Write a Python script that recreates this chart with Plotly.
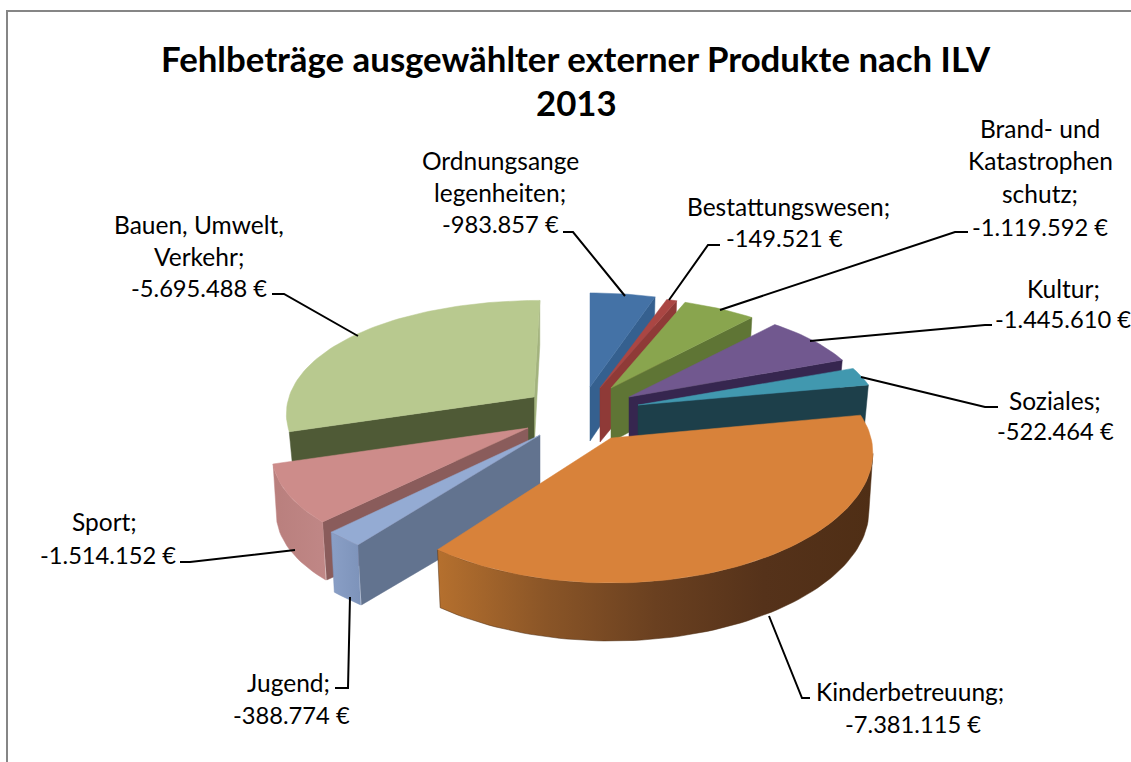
import math
import plotly.graph_objects as go

# ---- data ----
categories = ["Ordnungsangelegenheiten", "Bestattungswesen", "Brand- und Katastrophenschutz",
              "Kultur", "Soziales", "Kinderbetreuung", "Jugend", "Sport", "Bauen, Umwelt, Verkehr"]
values = [-983857, -149521, -1119592, -1445610, -522464, -7381115, -388774, -1514152, -5695488]
label_lines = [["Ordnungsange", "legenheiten;"], ["Bestattungswesen;"],
               ["Brand- und", "Katastrophen", "schutz;"], ["Kultur;"], ["Soziales;"],
               ["Kinderbetreuung;"], ["Jugend;"], ["Sport;"], ["Bauen, Umwelt,", "Verkehr;"]]
title_lines = ["Fehlbeträge ausgewählter externer Produkte nach ILV", "2013"]

# ---- style: pseudo-3D exploded pie, pixel layout of each exploded wedge ----
apex = [(590, 387), (600, 388), (611, 388), (629, 397), (638, 405), (611, 438), (540, 435), (528, 428), (534, 397)]
radii = [(232, 112), (238, 110), (230, 108), (238, 111), (240, 110), (260, 125), (273, 123), (249, 119), (245, 115)]
depths = [50, 50, 50, 46, 48, 58, 60, 58, 50]
leans = [0, 0, 0, 0, 0, 0, 0, 0, 0.06]
persp_x = [0.12, 0.12, 0.12, 0.12, 0.12, 0.12, 0.12, 0.24, 0.12]
top_col = ["#4472a6", "#aa4643", "#89a54e", "#71588f", "#4198af", "#d8823a", "#94abd3", "#cd8c8a", "#b8c98f"]
wall_col = ["#35608f", "#8f3a37", "#5f7535", "#36264f", "#1d3f4a", "#55321a", "#62738f", "#8a5c5b", "#4f5a36"]
rim_col = [["#35608f", "#35608f"], ["#8f3a37", "#8f3a37"], ["#5f7535", "#5f7535"], ["#36264f", "#36264f"],
           ["#1d3f4a", "#1d3f4a"],
           ["#b5702e", "#8a5527", "#6a4020", "#55321a", "#4f2e15"],
           ["#8a9fc6", "#7d93ba"], ["#b97f7d", "#c08786"], ["#4f5a36", "#4f5a36"]]
ray_wall = ["end", "end", "end", "end", "end", None, "start", "start", "start"]
rim_start = [None, None, None, None, None, 97, None, None, None]
K = 0.16

draw_order = [8, 7, 6, 0, 1, 2, 3, 4, 5]

text_color = "#000000"
word_size = 24.5
money_size = 23.7
title_size = 34.8
label_pos = {
    0: ([500, 500, 500], [160, 192, 224]), 1: ([788, 784], [206, 238]),
    2: ([1040, 1040, 1040, 1040], [128, 160, 193, 227]),
    3: ([1063, 1063], [288, 319]), 4: ([1055, 1055], [400, 431]), 5: ([910, 913], [691, 724]),
    6: ([288, 291], [682, 715]), 7: ([104, 108], [521, 555]),
    8: ([199, 199, 199], [224, 256, 288]),
}
leaders = [
    [(563, 232), (573, 232), (625, 296)], [(720, 245), (708, 245), (669, 300)],
    [(720, 310), (955, 232), (968, 232)], [(810, 341), (985, 325), (992, 325)],
    [(861, 377), (985, 407), (998, 407)], [(769, 616), (802, 698), (810, 698)],
    [(350, 597), (348, 688), (335, 688)], [(295, 550), (190, 562), (180, 562)],
    [(358, 336), (284, 294), (272, 294)],
]

total = sum(abs(v) for v in values)
spans = []
a = 0.0
for v in values:
    b = a + abs(v) / total * 360
    spans.append((a, b))
    a = b


def pt(i, deg, drop=0.0, shrink=1.0):
    t = math.radians(deg)
    c, s = math.cos(t), math.sin(t)
    ax, ay = apex[i]
    rx, ry = radii[i]
    dx = rx * (1 - persp_x[i] * c) * s * shrink
    dy = -ry * (1 - K * c) * c
    return ax + dx - leans[i] * dy, ay + dy + drop


def arc(i, a0, a1, drop=0.0, shrink=1.0):
    n = max(2, int(abs(a1 - a0) / 1.5) + 1)
    return [pt(i, a0 + (a1 - a0) * k / (n - 1), drop, shrink) for k in range(n)]


fig = go.Figure()


def poly(points, color=None, gradient=None):
    xs = [p[0] for p in points] + [points[0][0]]
    ys = [p[1] for p in points] + [points[0][1]]
    kw = dict(x=xs, y=ys, mode="lines", line=dict(width=0.5, color=color or gradient[-1]),
              fill="toself", hoverinfo="skip", showlegend=False)
    if gradient and len(set(gradient)) > 1:
        n = len(gradient) - 1
        kw["fillgradient"] = dict(type="horizontal",
                                  colorscale=[[j / n, g] for j, g in enumerate(gradient)])
    else:
        kw["fillcolor"] = color or gradient[0]
    fig.add_trace(go.Scatter(**kw))


for i in draw_order:
    a0, a1 = spans[i]
    ax, ay = apex[i]
    d = depths[i]
    base = (ax, ay + d * 1.08)
    # thin lit end face of the Bauen wedge
    if i == 8:
        poly([(ax, ay), pt(i, a1), pt(i, a1, d * 0.9), base], color="#a3b37e")
    # radial wall
    if ray_wall[i]:
        ang = a1 if ray_wall[i] == "end" else a0
        poly([(ax, ay), pt(i, ang), pt(i, ang, d, 0.98), base], color=wall_col[i])
    # outer rim
    if i in (5, 6, 7):
        rim0 = max(a0, rim_start[i] or a0)
        top = arc(i, rim0, a1)
        bottom = arc(i, rim0, a1, depths[i], 0.985)
        poly(top + bottom[::-1], gradient=rim_col[i])
    # top face
    poly([(ax, ay)] + arc(i, a0, a1), color=top_col[i])

anns = []
for txt, y in zip(title_lines, [58, 102]):
    anns.append(dict(x=576, y=y, text=f"<b>{txt}</b>", showarrow=False, xref="x", yref="y",
                     xanchor="center", yanchor="middle",
                     font=dict(size=title_size, color=text_color)))
for i, v in enumerate(values):
    money = f"{v:,}".replace(",", ".") + " €"
    lines = label_lines[i] + [money]
    cxs, ys = label_pos[i]
    for j, (txt, cx, y) in enumerate(zip(lines, cxs, ys)):
        size = money_size if j == len(lines) - 1 else word_size
        anns.append(dict(x=cx, y=y, text=txt, showarrow=False, xref="x", yref="y",
                         xanchor="center", yanchor="middle",
                         font=dict(size=size, color=text_color)))

shapes = [dict(type="rect", x0=7, y0=11, x1=1160, y1=800, xref="x", yref="y",
               line=dict(color="#868686", width=2), fillcolor="rgba(0,0,0,0)", layer="below")]
for seg in leaders:
    path = "M " + " L ".join(f"{x},{y}" for x, y in seg)
    shapes.append(dict(type="path", path=path, xref="x", yref="y",
                       line=dict(color="#000000", width=2)))

fig.update_layout(
    width=1131, height=762, margin=dict(l=0, r=0, t=0, b=0),
    paper_bgcolor="white", plot_bgcolor="white", showlegend=False,
    font=dict(family="Lato, Carlito, sans-serif", color=text_color),
    xaxis=dict(range=[0, 1131], visible=False, fixedrange=True),
    yaxis=dict(range=[762, 0], visible=False, fixedrange=True),
    annotations=anns, shapes=shapes,
)
fig.write_html("out.html", config=dict(displayModeBar=False),
               post_script="document.body.style.margin='0';")
